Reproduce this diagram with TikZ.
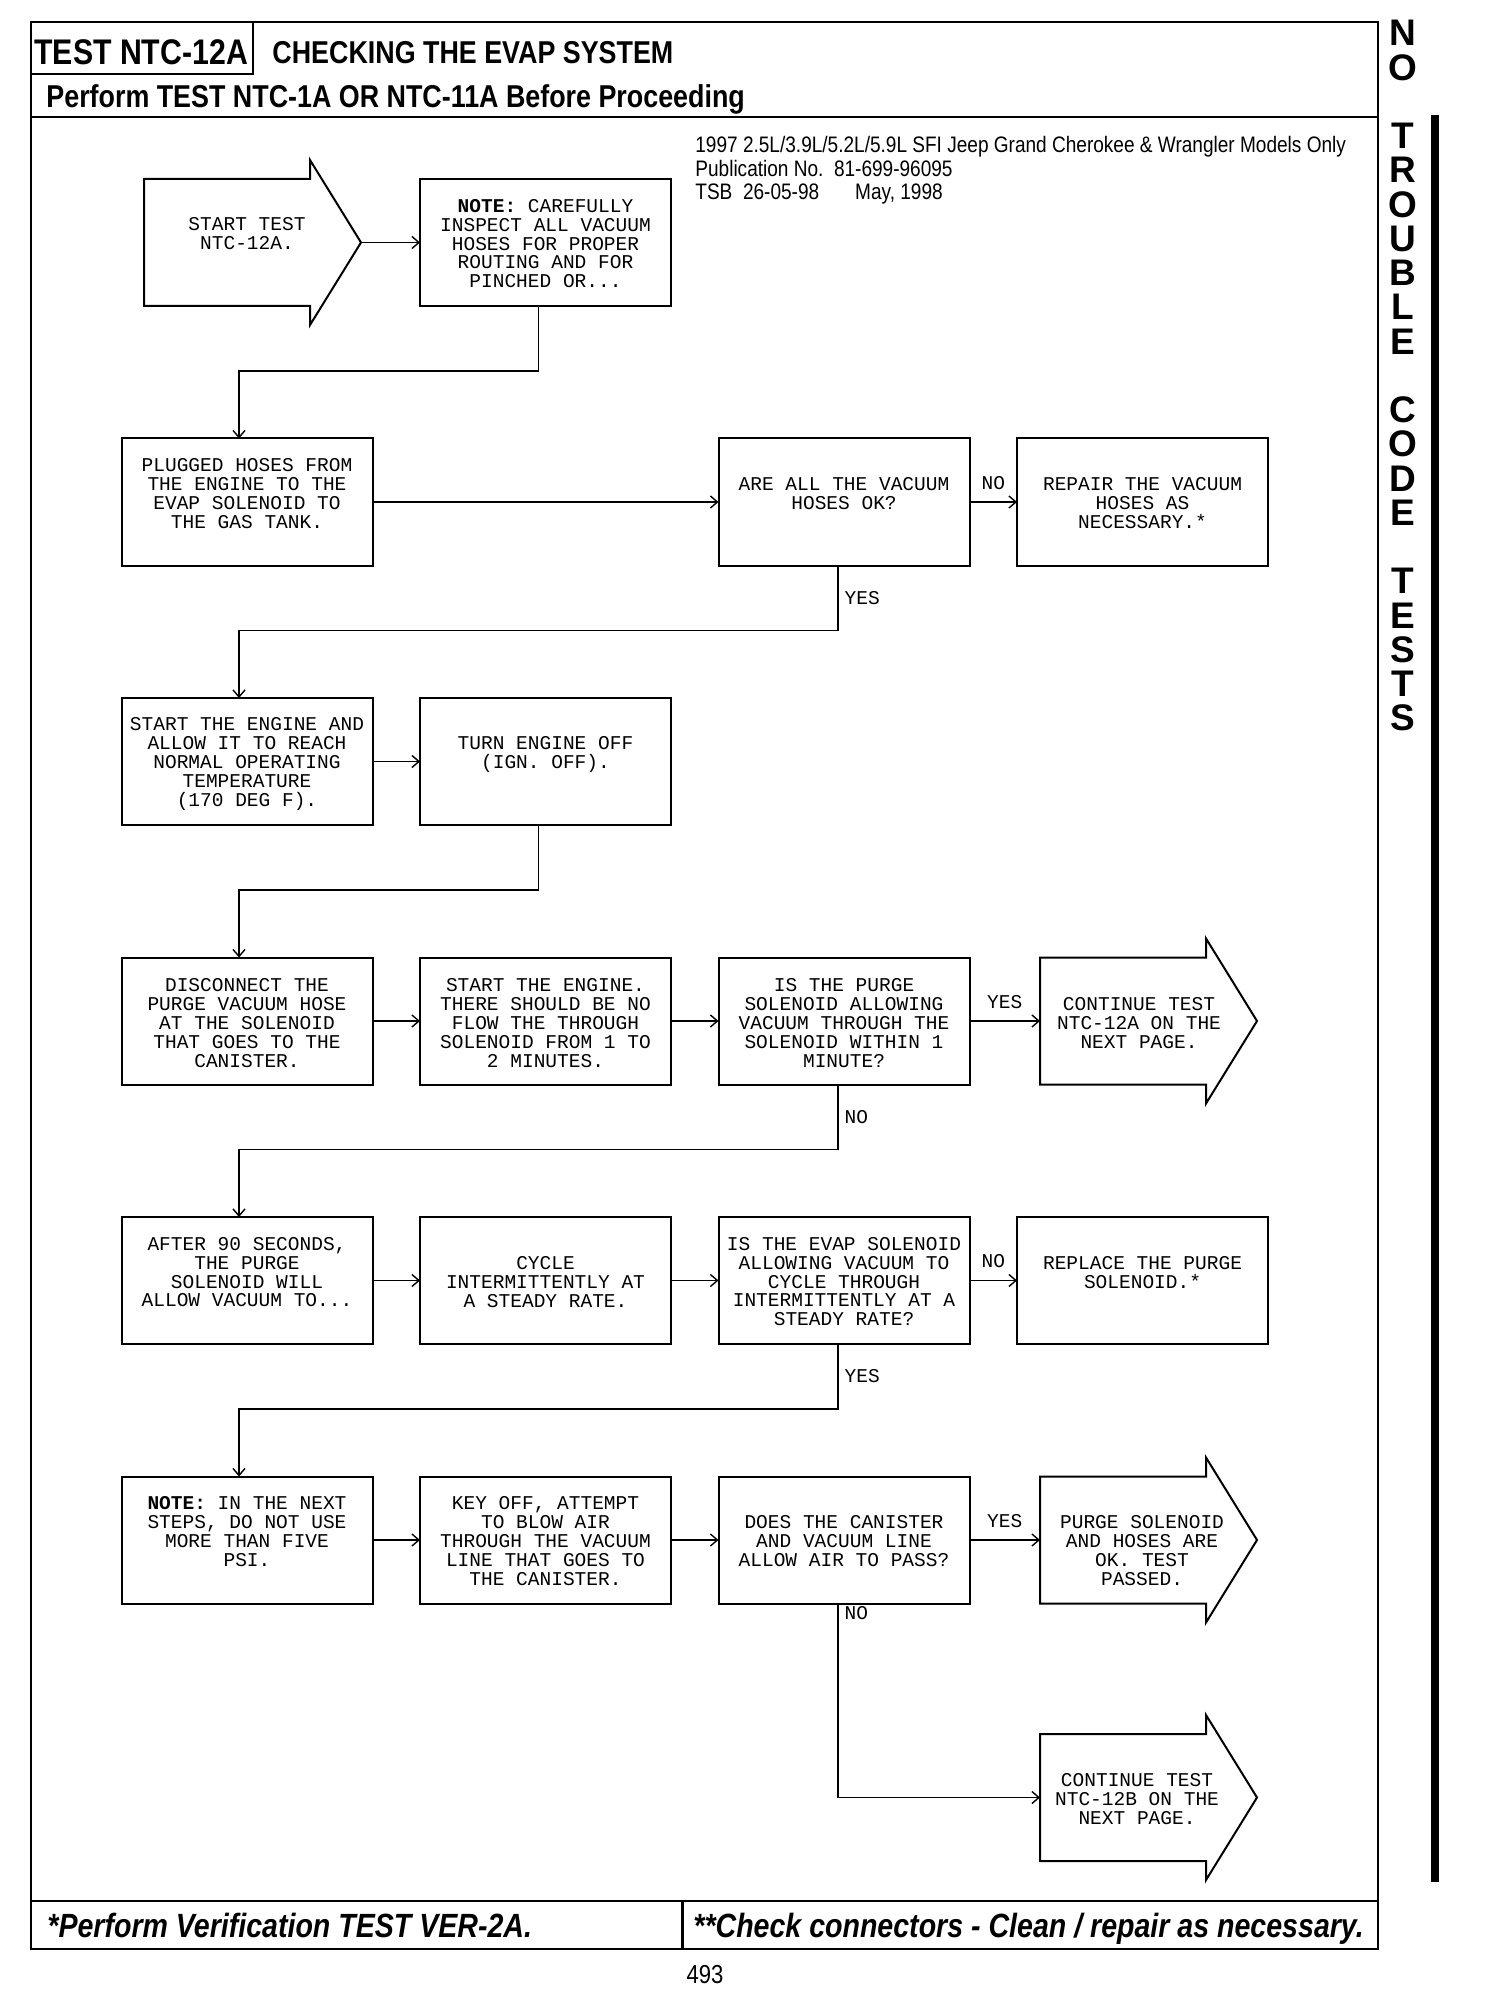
\documentclass[tikz,border=0pt]{standalone}
\usepackage{fontspec}
\usetikzlibrary{arrows.meta,calc}
\newfontfamily\mono{Liberation Mono}
\newfontfamily\hdr{Liberation Sans}[FakeStretch=0.85]
\newfontfamily\sidefnt{Liberation Sans}
\newcommand\boxfont{\mono\fontsize{9.75pt}{9.4pt}\selectfont}
\newcommand\arrowshape[1]{%
  \draw[shapeline] (#1.north west) -- (#1.north east) -- ++(0,-19)
    -- ($(#1.east)+(51,0)$) coordinate (#1tip)
    -- ($(#1.south east)+(0,19)$) -- (#1.south east) -- (#1.south west) -- cycle;}
\begin{document}
\begin{tikzpicture}[x=0.5pt,y=-0.5pt,
  frame/.style={line width=1.3pt},
  stepbox/.style={draw, line width=1pt, minimum width=125.5pt, minimum height=63.5pt, inner sep=0pt, outer sep=0pt},
  shaft/.style={minimum width=83pt, minimum height=63.5pt, inner sep=0pt, outer sep=0pt},
  shapeline/.style={line width=1pt, line join=miter},
  txt/.style={font=\boxfont, align=center, inner sep=0pt, anchor=north},
  lbl/.style={font=\boxfont, inner sep=0pt},
  conn/.style={line width=0.7pt, -{Straight Barb[length=3.5pt,width=6pt]}}]
\useasboundingbox (0,0) rectangle (1504,2000);

% frame and header
\draw[frame] (31,22) rectangle (1378,1949);
\draw[frame] (31,74) -- (253,74) -- (253,22);
\draw[frame] (31,117) -- (1378,117);
\draw[frame] (31,1901) -- (1378,1901);
\draw[frame] (682.5,1901) -- (682.5,1949);

\node[anchor=base west, inner sep=0pt, font=\hdr\bfseries\fontsize{17.8pt}{20pt}\selectfont] (ttest) at (34,64.5) {TEST NTC-12A};
\node[anchor=base west, inner sep=0pt, font=\hdr\bfseries\fontsize{15.8pt}{18pt}\selectfont] (ttitle) at (272,63.5) {CHECKING THE EVAP SYSTEM};
\node[anchor=base west, inner sep=0pt, font=\hdr\bfseries\fontsize{15.8pt}{18pt}\selectfont] (tperf) at (46,108) {Perform TEST NTC-1A OR NTC-11A Before Proceeding};

\node[anchor=north west, inner sep=0pt, align=left, font=\hdr\fontsize{11.2pt}{11.8pt}\selectfont] (tinfo) at (695,136)
  {1997 2.5L/3.9L/5.2L/5.9L SFI Jeep Grand Cherokee \& Wrangler Models Only\\Publication No.\ \ 81-699-96095\\TSB\ \ 26-05-98\hspace{18pt}May, 1998};

\node[anchor=base west, inner sep=0pt, font=\hdr\bfseries\itshape\fontsize{16.8pt}{18pt}\selectfont] (tfoot1) at (47,1937) {*Perform Verification TEST VER-2A.};
\node[anchor=base west, inner sep=0pt, font=\hdr\bfseries\itshape\fontsize{16.8pt}{18pt}\selectfont] (tfoot2) at (693,1937) {**Check connectors - Clean / repair as necessary.};
\node[anchor=base, inner sep=0pt, font=\hdr\fontsize{13pt}{14pt}\selectfont] (tpage) at (705,1983) {493};

% side tab
\node[anchor=north, inner sep=0pt, align=center, font=\sidefnt\bfseries\fontsize{18.5pt}{17.125pt}\selectfont] (tside) at (1403,20)
  {N\\O\\~\\T\\R\\O\\U\\B\\L\\E\\~\\C\\O\\D\\E\\~\\T\\E\\S\\T\\S};
\fill (1431,115) rectangle (1439,1882);

% boxes
\node[stepbox] (note1) at (545.5,242.5) {};
\node[stepbox] (plugged) at (247,502) {};
\node[stepbox] (areall) at (844,502) {};
\node[stepbox] (repair) at (1142.5,502) {};
\node[stepbox] (starteng) at (247,761.5) {};
\node[stepbox] (turnoff) at (545.5,761.5) {};
\node[stepbox] (disconn) at (247,1021) {};
\node[stepbox] (starteng2) at (545.5,1021) {};
\node[stepbox] (ispurge) at (844,1021) {};
\node[stepbox] (after90) at (247,1280.5) {};
\node[stepbox] (cycle) at (545.5,1280.5) {};
\node[stepbox] (isevap) at (844,1280.5) {};
\node[stepbox] (replace) at (1142.5,1280.5) {};
\node[stepbox] (note2) at (247,1540) {};
\node[stepbox] (keyoff) at (545.5,1540) {};
\node[stepbox] (does) at (844,1540) {};

% arrow-shaped boxes
\node[shaft] (start) at (227,242.5) {};
\node[shaft] (contA) at (1123,1021) {};
\node[shaft] (passed) at (1123,1540) {};
\node[shaft] (contB) at (1123,1797.5) {};
\arrowshape{start}
\arrowshape{contA}
\arrowshape{passed}
\arrowshape{contB}

% texts
\node[txt] (t1) at (247,217) {START TEST\\NTC-12A.};
\node[txt] (t2) at (545.5,199) {\textbf{NOTE:} CAREFULLY\\INSPECT ALL VACUUM\\HOSES FOR PROPER\\ROUTING AND FOR\\PINCHED OR...};
\node[txt] (t3) at (247,458.5) {PLUGGED HOSES FROM\\THE ENGINE TO THE\\EVAP SOLENOID TO\\THE GAS TANK.};
\node[txt] (t4) at (844,477.5) {ARE ALL THE VACUUM\\HOSES OK?};
\node[txt] (t5) at (1142.5,477.5) {REPAIR THE VACUUM\\HOSES AS\\NECESSARY.*};
\node[txt] (t6) at (247,717.5) {START THE ENGINE AND\\ALLOW IT TO REACH\\NORMAL OPERATING\\TEMPERATURE\\(170 DEG F).};
\node[txt] (t7) at (545.5,736) {TURN ENGINE OFF\\(IGN. OFF).};
\node[txt] (t8) at (247,978.5) {DISCONNECT THE\\PURGE VACUUM HOSE\\AT THE SOLENOID\\THAT GOES TO THE\\CANISTER.};
\node[txt] (t9) at (545.5,978.5) {START THE ENGINE.\\THERE SHOULD BE NO\\FLOW THE THROUGH\\SOLENOID FROM 1 TO\\2 MINUTES.};
\node[txt] (t10) at (844,978.5) {IS THE PURGE\\SOLENOID ALLOWING\\VACUUM THROUGH THE\\SOLENOID WITHIN 1\\MINUTE?};
\node[txt] (t11) at (1139,997.5) {CONTINUE TEST\\NTC-12A ON THE\\NEXT PAGE.};
\node[txt] (t12) at (247,1237) {AFTER 90 SECONDS,\\THE PURGE\\SOLENOID WILL\\ALLOW VACUUM TO...};
\node[txt] (t13) at (545.5,1256) {CYCLE\\INTERMITTENTLY AT\\A STEADY RATE.};
\node[txt] (t14) at (844,1237) {IS THE EVAP SOLENOID\\ALLOWING VACUUM TO\\CYCLE THROUGH\\INTERMITTENTLY AT A\\STEADY RATE?};
\node[txt] (t15) at (1142.5,1256) {REPLACE THE PURGE\\SOLENOID.*};
\node[txt] (t16) at (247,1496.5) {\textbf{NOTE:} IN THE NEXT\\STEPS, DO NOT USE\\MORE THAN FIVE\\PSI.};
\node[txt] (t17) at (545.5,1496.5) {KEY OFF, ATTEMPT\\TO BLOW AIR\\THROUGH THE VACUUM\\LINE THAT GOES TO\\THE CANISTER.};
\node[txt] (t18) at (844,1515.5) {DOES THE CANISTER\\AND VACUUM LINE\\ALLOW AIR TO PASS?};
\node[txt] (t19) at (1142,1515.5) {PURGE SOLENOID\\AND HOSES ARE\\OK. TEST\\PASSED.};
\node[txt] (t20) at (1137,1773) {CONTINUE TEST\\NTC-12B ON THE\\NEXT PAGE.};

% connectors
\draw[conn] (starttip) -- (note1.west);
\draw[conn] ([xshift=-3.5pt]note1.south) -- ++(0,65) -| ([xshift=-4pt]plugged.north);
\draw[conn] (plugged.east) -- (areall.west);
\draw[conn] (areall.east) -- node[lbl, above=6pt] (lno1) {NO} (repair.west);
\draw[conn] ([xshift=-3pt]areall.south) -- node[lbl, right=3pt] (lyes1) {YES} ++(0,65) -| ([xshift=-4pt]starteng.north);
\draw[conn] (starteng.east) -- (turnoff.west);
\draw[conn] ([xshift=-3.5pt]turnoff.south) -- ++(0,65) -| ([xshift=-4pt]disconn.north);
\draw[conn] (disconn.east) -- (starteng2.west);
\draw[conn] (starteng2.east) -- (ispurge.west);
\draw[conn] (ispurge.east) -- node[lbl, above=6pt] (lyes2) {YES} (contA.west);
\draw[conn] ([xshift=-3pt]ispurge.south) -- node[lbl, right=3pt] (lno2) {NO} ++(0,65) -| ([xshift=-4pt]after90.north);
\draw[conn] (after90.east) -- (cycle.west);
\draw[conn] (cycle.east) -- (isevap.west);
\draw[conn] (isevap.east) -- node[lbl, above=6pt] (lno3) {NO} (replace.west);
\draw[conn] ([xshift=-3pt]isevap.south) -- node[lbl, right=3pt] (lyes3) {YES} ++(0,65) -| ([xshift=-4pt]note2.north);
\draw[conn] (note2.east) -- (keyoff.west);
\draw[conn] (keyoff.east) -- (does.west);
\draw[conn] (does.east) -- node[lbl, above=6pt] (lyes4) {YES} (passed.west);
\draw[conn] ([xshift=-3pt]does.south) |- node[lbl, pos=0.025, right=3pt] (lno4) {NO} (contB.west);
\end{tikzpicture}
\end{document}
